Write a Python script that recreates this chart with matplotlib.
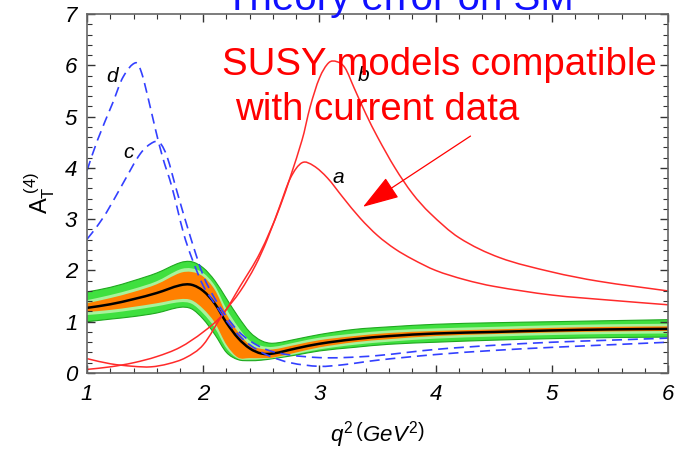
import numpy as np
import matplotlib
matplotlib.use("Agg")
import matplotlib.pyplot as plt
from matplotlib.path import Path
from matplotlib.patches import PathPatch
from matplotlib.ticker import MultipleLocator

plt.rcParams["font.family"] = ["Liberation Sans", "DejaVu Sans"]
plt.rcParams["mathtext.fontset"] = "custom"
plt.rcParams["mathtext.rm"] = "Liberation Sans"
plt.rcParams["mathtext.it"] = "Liberation Sans:italic"

# SM prediction: central value and the two error bands
q2_sm = [1.0, 1.2, 1.4, 1.6, 1.8, 1.9, 2.0, 2.1, 2.2, 2.3, 2.4, 2.5, 2.6, 2.8, 3.0, 3.3, 3.6, 4.0, 4.5, 5.0, 5.5, 6.0]
sm_central = [1.27, 1.34, 1.44, 1.56, 1.71, 1.72, 1.60, 1.35, 0.98, 0.68, 0.48, 0.38, 0.38, 0.48, 0.57, 0.66, 0.72, 0.77, 0.80, 0.83, 0.85, 0.86]
orange_hi = [1.36, 1.46, 1.58, 1.73, 1.95, 1.97, 1.88, 1.62, 1.15, 0.80, 0.55, 0.47, 0.46, 0.55, 0.64, 0.72, 0.78, 0.82, 0.85, 0.88, 0.90, 0.91]
orange_lo = [1.19, 1.23, 1.29, 1.36, 1.44, 1.42, 1.25, 0.98, 0.55, 0.30, 0.29, 0.29, 0.30, 0.40, 0.50, 0.60, 0.66, 0.72, 0.76, 0.79, 0.81, 0.82]
pale_hi = [1.42, 1.52, 1.64, 1.79, 2.02, 2.04, 1.95, 1.70, 1.25, 0.90, 0.63, 0.53, 0.51, 0.60, 0.69, 0.77, 0.83, 0.87, 0.90, 0.93, 0.95, 0.96]
pale_lo = [1.13, 1.17, 1.23, 1.30, 1.38, 1.35, 1.16, 0.88, 0.48, 0.28, 0.26, 0.27, 0.29, 0.37, 0.46, 0.55, 0.61, 0.67, 0.71, 0.74, 0.76, 0.77]
green_hi = [1.58, 1.67, 1.80, 1.95, 2.15, 2.17, 2.05, 1.80, 1.45, 1.10, 0.80, 0.63, 0.58, 0.66, 0.75, 0.85, 0.90, 0.95, 0.98, 1.00, 1.02, 1.04]
green_lo = [1.00, 1.05, 1.10, 1.17, 1.28, 1.25, 1.05, 0.75, 0.40, 0.26, 0.24, 0.25, 0.28, 0.35, 0.43, 0.50, 0.56, 0.60, 0.64, 0.67, 0.69, 0.70]

# SUSY scenarios a, b (red) and c, d (blue dashed)
q2_a = [1.0, 1.2, 1.4, 1.55, 1.7, 1.85, 2.0, 2.17, 2.32, 2.45, 2.55, 2.65, 2.75, 2.85, 2.95, 3.07, 3.2, 3.35, 3.5, 3.65, 3.8, 4.0, 4.25, 4.5, 5.0, 5.5, 6.0]
at_a = [0.28, 0.18, 0.13, 0.12, 0.18, 0.30, 0.55, 1.15, 1.60, 2.10, 2.60, 3.20, 3.80, 4.10, 4.04, 3.80, 3.43, 3.02, 2.68, 2.42, 2.22, 2.00, 1.82, 1.69, 1.52, 1.42, 1.33]
q2_b = [1.0, 1.2, 1.4, 1.6, 1.8, 2.0, 2.17, 2.32, 2.49, 2.66, 2.85, 2.92, 3.0, 3.08, 3.15, 3.22, 3.3, 3.4, 3.5, 3.65, 3.8, 3.95, 4.2, 4.55, 5.0, 5.4, 6.0]
at_b = [0.07, 0.12, 0.20, 0.32, 0.50, 0.80, 1.15, 1.70, 2.35, 3.24, 4.54, 5.19, 5.75, 6.05, 6.07, 5.95, 5.55, 5.05, 4.60, 4.00, 3.50, 3.12, 2.64, 2.25, 1.97, 1.79, 1.60]
q2_c = [1.0, 1.08, 1.17, 1.31, 1.46, 1.57, 1.63, 1.69, 1.77, 1.89, 2.0, 2.1, 2.2, 2.3, 2.4, 2.55, 2.75, 3.0, 3.2, 3.5, 4.0, 4.5, 5.0, 5.5, 6.0]
at_c = [2.61, 2.84, 3.14, 3.70, 4.28, 4.50, 4.48, 4.21, 3.57, 2.65, 1.90, 1.45, 1.10, 0.82, 0.63, 0.45, 0.35, 0.30, 0.30, 0.34, 0.46, 0.54, 0.60, 0.64, 0.68]
q2_d = [1.0, 1.09, 1.22, 1.31, 1.42, 1.47, 1.53, 1.59, 1.65, 1.73, 1.83, 1.9, 2.0, 2.1, 2.2, 2.3, 2.4, 2.55, 2.75, 3.0, 3.2, 3.5, 4.0, 4.5, 5.0, 5.5, 6.0]
at_d = [3.95, 4.54, 5.26, 5.77, 6.05, 5.85, 5.32, 4.74, 4.21, 3.63, 2.73, 2.25, 1.70, 1.35, 1.02, 0.75, 0.55, 0.35, 0.20, 0.13, 0.16, 0.25, 0.36, 0.44, 0.50, 0.55, 0.60]

curve_labels = ["a", "b", "c", "d"]
label_pos = [(3.16, 3.82), (3.38, 5.81), (1.36, 4.29), (1.22, 5.79)]


def bezier_segments(xs, ys):
    # cubic Hermite pieces through the given points, slopes from neighbours
    xs = np.asarray(xs, float)
    ys = np.asarray(ys, float)
    n = len(xs)
    m = np.empty(n)
    m[0] = (ys[1] - ys[0]) / (xs[1] - xs[0])
    m[-1] = (ys[-1] - ys[-2]) / (xs[-1] - xs[-2])
    for i in range(1, n - 1):
        m[i] = (ys[i + 1] - ys[i - 1]) / (xs[i + 1] - xs[i - 1])
    verts = [(xs[0], ys[0])]
    for i in range(n - 1):
        h = xs[i + 1] - xs[i]
        verts.append((xs[i] + h / 3, ys[i] + m[i] * h / 3))
        verts.append((xs[i + 1] - h / 3, ys[i + 1] - m[i + 1] * h / 3))
        verts.append((xs[i + 1], ys[i + 1]))
    return verts


def curve(ax, xs, ys, **kw):
    verts = bezier_segments(xs, ys)
    codes = [Path.MOVETO] + [Path.CURVE4] * (len(verts) - 1)
    ax.add_patch(PathPatch(Path(verts, codes), fill=False, **kw))


def band(ax, xs, lo, hi, **kw):
    top = bezier_segments(xs, hi)
    bot = bezier_segments(xs[::-1], lo[::-1])
    verts = top + [bot[0]] + bot[1:] + [top[0]]
    codes = ([Path.MOVETO] + [Path.CURVE4] * (len(top) - 1) + [Path.LINETO]
             + [Path.CURVE4] * (len(bot) - 1) + [Path.CLOSEPOLY])
    ax.add_patch(PathPatch(Path(verts, codes), **kw))


fig = plt.figure(figsize=(6.81, 4.53), dpi=100)
ax = fig.add_axes([0.1278, 0.1766, 0.8532, 0.7925])

band(ax, q2_sm, green_lo, green_hi, facecolor="#3fe03f", edgecolor="#1fa81f", lw=0.8)
band(ax, q2_sm, pale_lo, pale_hi, facecolor="#a8f29c", edgecolor="none")
band(ax, q2_sm, orange_lo, orange_hi, facecolor="#ff8000", edgecolor="none")
curve(ax, q2_sm, sm_central, edgecolor="black", lw=1.8)

curve(ax, q2_a, at_a, edgecolor="#ff2a2a", lw=1.1)
curve(ax, q2_b, at_b, edgecolor="#ff2a2a", lw=1.1)
curve(ax, q2_c, at_c, edgecolor="#3340ff", lw=1.2, ls=(0, (6, 3.5)))
curve(ax, q2_d, at_d, edgecolor="#3340ff", lw=1.2, ls=(0, (6, 3.5)))

for lab, (xx, yy) in zip(curve_labels, label_pos):
    ax.text(xx, yy, lab, fontsize=15, style="italic", ha="center", va="center")

ax.text(2.165, 5.81, "SUSY models compatible", color="red", fontsize=27.6, va="baseline")
ax.text(2.275, 4.93, "with current data", color="red", fontsize=27.6, va="baseline")
ax.annotate("", xy=(3.375, 3.24), xytext=(4.3, 4.62),
            arrowprops=dict(arrowstyle="-|>,head_length=2.3,head_width=0.75",
                            color="red", lw=0.9, shrinkA=0, shrinkB=0))

fig.text(0.586, 0.978, "Theory error on SM", color="#1010ff", fontsize=29,
         ha="center", va="baseline")

ax.set_xlim(1, 6)
ax.set_ylim(0, 7)
ax.xaxis.set_major_locator(MultipleLocator(1))
ax.xaxis.set_minor_locator(MultipleLocator(0.2))
ax.yaxis.set_major_locator(MultipleLocator(1))
ax.yaxis.set_minor_locator(MultipleLocator(0.2))
ax.tick_params(which="both", direction="in", top=True, right=True, colors="#333333")
ax.tick_params(which="major", length=6, width=1)
ax.tick_params(which="minor", length=3.5, width=0.8)
ax.tick_params(axis="x", pad=8)
ax.tick_params(axis="y", pad=7)
for lbl in ax.get_xticklabels() + ax.get_yticklabels():
    lbl.set_fontsize(16)
    lbl.set_style("italic")
    lbl.set_color("black")
for sp in ax.spines.values():
    sp.set_color("#666666")
    sp.set_linewidth(1.2)

ax.set_xlabel(r"$q^2\,\left(GeV^2\right)$", fontsize=16, labelpad=10)
ax.set_ylabel(r"$\mathrm{A}_{\mathrm{T}}^{\ (4)}$", fontsize=17, labelpad=6)

fig.savefig("out.png", dpi=100)
